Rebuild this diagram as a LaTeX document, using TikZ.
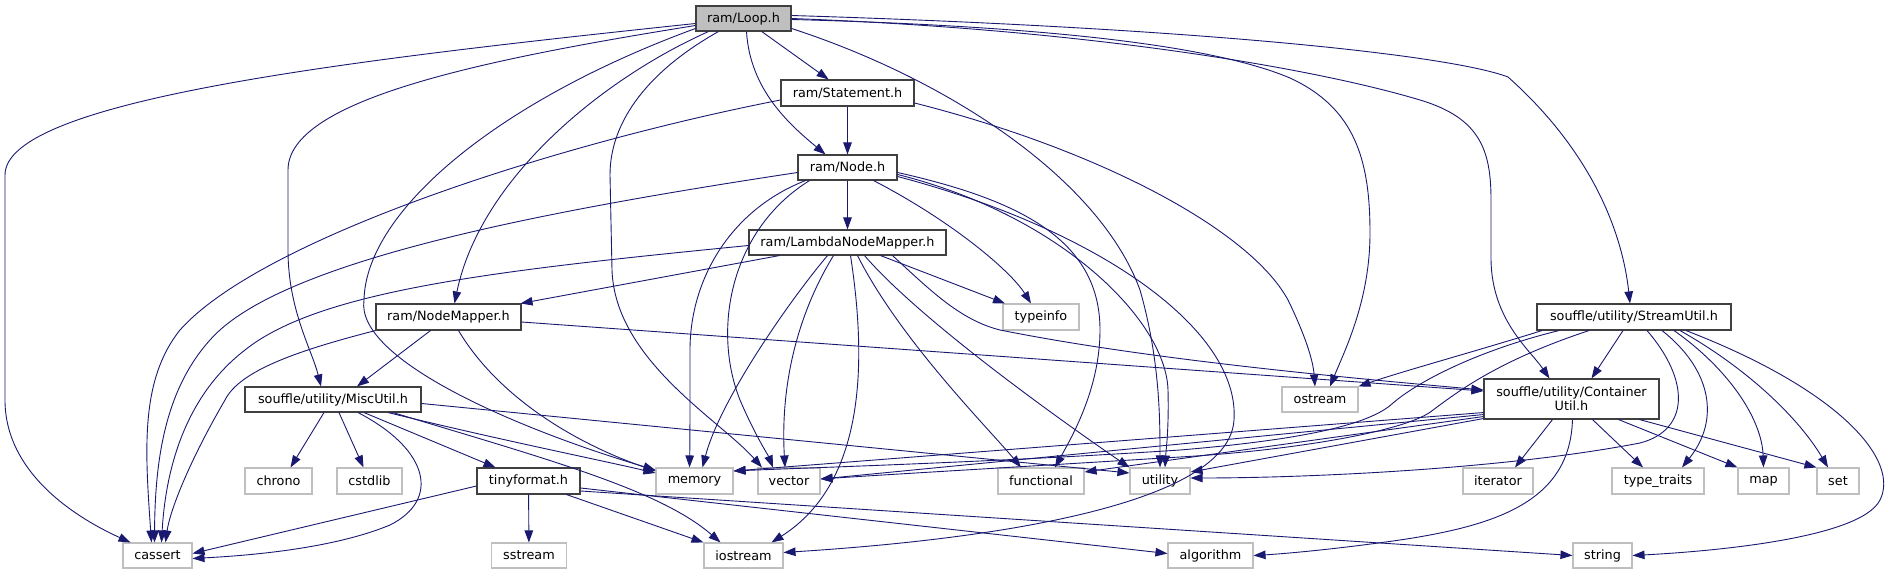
\documentclass[tikz,border=0pt]{standalone}
\usepackage{fontspec}
\setmainfont{DejaVu Sans}
\usetikzlibrary{arrows.meta}
\definecolor{edgec}{HTML}{191970}
\definecolor{bordc}{HTML}{404040}
\definecolor{sysc}{HTML}{BFBFBF}
\newcommand{\nodefont}{\fontsize{12.8}{14}\selectfont}
\tikzset{
  box/.style={rectangle, inner sep=0pt, font=\nodefont, text=black, minimum height=25pt, line width=1.1pt, align=center},
  proj/.style={box, draw=bordc, fill=white},
  sys/.style={box, draw=sysc, fill=white},
  mainbox/.style={box, draw=bordc, fill=sysc},
  e/.style={draw=edgec, line width=0.9pt, -{Triangle[length=12pt,width=8.5pt]}}
}
\begin{document}
\begin{tikzpicture}[x=1pt,y=-1pt]
\useasboundingbox (0,0) rectangle (1891,575);
% nodes
\node[mainbox, minimum width=95pt] (loop) at (743.5,18.5) {ram/Loop.h};
\node[proj, minimum width=133pt, minimum height=26pt] (stmt) at (847.5,93) {ram/Statement.h};
\node[proj, minimum width=99pt] (nodeh) at (847.5,167.5) {ram/Node.h};
\node[proj, minimum width=197pt] (lnm) at (847.5,242.5) {ram/LambdaNodeMapper.h};
\node[proj, minimum width=145pt, minimum height=26pt] (nmap) at (448.5,317) {ram/NodeMapper.h};
\node[sys, minimum width=76pt, minimum height=26pt] (typeinfo) at (1041,317) {typeinfo};
\node[proj, minimum width=194pt, minimum height=26pt] (sutil) at (1634,317) {souffle/utility/StreamUtil.h};
\node[proj, minimum width=176pt] (misc) at (333,399.5) {souffle/utility/MiscUtil.h};
\node[sys, minimum width=76pt] (ostream) at (1320,399.5) {ostream};
\node[proj, minimum width=175pt, minimum height=40pt] (cutil) at (1571.5,399) {souffle/utility/Container\\Util.h};
\node[sys, minimum width=67pt, minimum height=26pt] (chrono) at (278.5,481) {chrono};
\node[sys, minimum width=65pt, minimum height=26pt] (cstdlib) at (369.5,481) {cstdlib};
\node[proj, minimum width=103pt, minimum height=26pt] (tinyf) at (528.5,481) {tinyformat.h};
\node[sys, minimum width=77pt, minimum height=26pt] (memory) at (694.5,481) {memory};
\node[sys, minimum width=62pt, minimum height=26pt] (vector) at (789,481) {vector};
\node[sys, minimum width=86pt, minimum height=26pt] (functional) at (1041,481) {functional};
\node[sys, minimum width=60pt, minimum height=26pt] (utility) at (1160,481) {utility};
\node[sys, minimum width=70pt, minimum height=26pt] (iterator) at (1498,481) {iterator};
\node[sys, minimum width=92pt, minimum height=26pt] (typetraits) at (1658,481) {type\_traits};
\node[sys, minimum width=51pt, minimum height=26pt] (map) at (1763.5,481) {map};
\node[sys, minimum width=42pt, minimum height=26pt] (set) at (1838,481) {set};
\node[sys, minimum width=69pt] (cassert) at (157.5,555.5) {cassert};
\node[sys, minimum width=75pt] (sstream) at (529,555.5) {sstream};
\node[sys, minimum width=79pt] (iostream) at (743.5,555.5) {iostream};
\node[sys, minimum width=85pt] (algorithm) at (1210.5,555.5) {algorithm};
\node[sys, minimum width=59pt] (string) at (1602.5,555.5) {string};
% Loop.h
\draw[e] ([yshift=-5pt]loop.west) .. controls (350,60) and (5,100) .. (5,175) -- (5,400) .. controls (5,470) and (70,515) .. ([xshift=-27pt]cassert.north);
\draw[e] ([yshift=-7pt]loop.west) .. controls (480,60) and (288,100) .. (288,170) -- (288,250) .. controls (288,310) and (312,350) .. ([xshift=-12pt]misc.north);
\draw[e] ([yshift=-10pt]loop.west) .. controls (500,100) and (366,210) .. (364,300) .. controls (355,360) and (520,430) .. ([yshift=11pt]memory.west);
\draw[e] ([xshift=-35pt]loop.south) .. controls (600,80) and (480,180) .. ([xshift=6pt]nmap.north);
\draw[e] ([xshift=-25pt]loop.south) .. controls (650,70) and (610,120) .. (610,175) -- (612,270) .. controls (615,360) and (720,420) .. ([xshift=-27pt]vector.north);
\draw[e] ([xshift=3pt]loop.south) .. controls (750,90) and (790,125) .. ([xshift=-22pt]nodeh.north);
\draw[e] (loop) -- (stmt);
\draw[e] ([yshift=-10pt]loop.east) .. controls (950,80) and (1100,180) .. (1140,290) .. controls (1160,360) and (1160,420) .. (utility.north);
\draw[e] ([yshift=-1pt]loop.east) .. controls (1000,25) and (1200,40) .. (1290,78) .. controls (1355,108) and (1370,160) .. (1370,233) .. controls (1370,300) and (1345,350) .. ([xshift=10pt]ostream.north);
\draw[e] (loop.east) .. controls (1100,30) and (1320,70) .. (1420,100) .. controls (1480,118) and (1491,150) .. (1491,200) -- (1491,260) .. controls (1492,320) and (1530,350) .. ([xshift=-22pt]cutil.north);
\draw[e] ([yshift=3pt]loop.east) .. controls (1200,28) and (1450,55) .. (1508,77) .. controls (1590,150) and (1622,230) .. ([xshift=-4pt]sutil.north);
% Statement.h
\draw[e] ([yshift=-7pt]stmt.west) .. controls (550,145) and (260,240) .. (180,330) .. controls (140,380) and (145,450) .. ([xshift=-6pt]cassert.north);
\draw[e] (stmt) -- (nodeh);
\draw[e] ([yshift=-10pt]stmt.east) .. controls (1100,150) and (1250,230) .. (1288,300) .. controls (1305,335) and (1313,360) .. ([xshift=-5pt]ostream.north);
% Node.h
\draw[e] ([yshift=-5pt]nodeh.west) .. controls (550,210) and (280,260) .. (210,340) .. controls (165,390) and (155,460) .. ([xshift=-3pt]cassert.north);
\draw[e] ([xshift=-42pt]nodeh.south) .. controls (730,210) and (690,280) .. (690,350) .. controls (690,400) and (690,440) .. ([xshift=-5pt]memory.north);
\draw[e] ([xshift=-38pt]nodeh.south) .. controls (730,230) and (712,330) .. (740,400) .. controls (755,435) and (768,455) .. ([xshift=-16pt]vector.north);
\draw[e] (nodeh) -- (lnm);
\draw[e] ([xshift=26pt]nodeh.south) .. controls (950,220) and (1010,270) .. ([xshift=-10pt]typeinfo.north);
\draw[e] ([yshift=-5pt]nodeh.east) .. controls (1020,200) and (1100,240) .. (1100,330) .. controls (1100,390) and (1070,440) .. ([xshift=14pt]functional.north);
\draw[e] ([yshift=-7pt]nodeh.east) .. controls (1060,215) and (1166,320) .. (1168,390) .. controls (1169,430) and (1166,450) .. ([xshift=5pt]utility.north);
\draw[e] ([yshift=-9pt]nodeh.east) .. controls (1100,230) and (1240,330) .. (1234,420) .. controls (1228,520) and (900,545) .. ([yshift=3pt]iostream.east);
% LambdaNodeMapper.h
\draw[e] ([yshift=-3pt]lnm.west) .. controls (500,270) and (320,290) .. (245,350) .. controls (180,400) and (165,480) .. ([xshift=4pt]cassert.north);
\draw[e] ([xshift=-68pt]lnm.south) -- ([xshift=-1pt]nmap.north east);
\draw[e] ([xshift=-20pt]lnm.south) .. controls (790,300) and (720,400) .. ([xshift=8pt]memory.north);
\draw[e] ([xshift=-14pt]lnm.south) .. controls (800,310) and (780,380) .. ([xshift=-4pt]vector.north);
\draw[e] ([xshift=3pt]lnm.south) .. controls (865,350) and (870,480) .. ([xshift=28pt]iostream.north);
\draw[e] ([xshift=10pt]lnm.south) .. controls (900,340) and (990,430) .. ([xshift=-20pt]functional.north);
\draw[e] ([xshift=17pt]lnm.south) .. controls (920,320) and (1060,420) .. (utility.north west);
\draw[e] ([xshift=33pt]lnm.south) -- ([xshift=-36pt]typeinfo.north);
\draw[e] ([xshift=45pt]lnm.south) .. controls (930,290) and (960,320) .. (1000,330) .. controls (1150,360) and (1350,378) .. ([yshift=9pt]cutil.west);
% NodeMapper.h
\draw[e] (nmap.south west) .. controls (300,350) and (240,370) .. (225,400) .. controls (190,460) and (170,510) .. ([xshift=8pt]cassert.north);
\draw[e] ([xshift=-18pt]nmap.south) -- ([xshift=24pt]misc.north);
\draw[e] ([xshift=10pt]nmap.south) .. controls (500,400) and (580,445) .. ([yshift=10pt]memory.west);
\draw[e] ([yshift=-5pt]nmap.east) -- ([yshift=8pt]cutil.west);
% MiscUtil.h
\draw[e] ([xshift=-9pt]misc.south) -- ([xshift=12pt]chrono.north);
\draw[e] ([xshift=6pt]misc.south) -- ([xshift=-6pt]cstdlib.north);
\draw[e] ([xshift=25pt]misc.south) .. controls (430,450) and (440,500) .. (390,525) .. controls (330,550) and (240,556) .. ([yshift=-3pt]cassert.east);
\draw[e] ([xshift=31pt]misc.south) -- ([xshift=-33pt]tinyf.north);
\draw[e] ([xshift=55pt]misc.south) .. controls (500,440) and (600,460) .. ([yshift=8pt]memory.west);
\draw[e] ([xshift=60pt]misc.south) .. controls (550,460) and (660,490) .. ([xshift=-23pt]iostream.north);
\draw[e] ([yshift=-4pt]misc.east) -- ([yshift=8pt]utility.west);
% tinyformat.h
\draw[e] ([yshift=-5pt]tinyf.west) -- ([yshift=2pt]cassert.east);
\draw[e] (tinyf) -- (sstream);
\draw[e] ([xshift=38pt]tinyf.south) -- (iostream.north west);
\draw[e] ([yshift=-7pt]tinyf.east) -- ([yshift=2pt]algorithm.west);
\draw[e] ([yshift=-10pt]tinyf.east) -- (string.west);
% StreamUtil.h
\draw[e] ([xshift=-92pt]sutil.south) .. controls (1480,350) and (1400,372) .. (ostream.north east);
\draw[e] ([xshift=-75pt]sutil.south) .. controls (1480,350) and (1420,380) .. (1393,403) .. controls (1370,425) and (1300,440) .. (1180,450) .. controls (1000,462) and (800,468) .. ([yshift=10pt]memory.east);
\draw[e] ([xshift=-45pt]sutil.south) .. controls (1500,360) and (1460,390) .. (1433,410) .. controls (1410,430) and (1300,450) .. (1180,457) .. controls (1000,468) and (880,475) .. ([yshift=2pt]vector.east);
\draw[e] ([xshift=-11pt]sutil.south) -- ([xshift=20pt]cutil.north);
\draw[e] ([xshift=13pt]sutil.south) .. controls (1690,380) and (1690,430) .. (1640,443) .. controls (1500,470) and (1300,478) .. ([yshift=3pt]utility.east);
\draw[e] ([xshift=28pt]sutil.south) .. controls (1712,370) and (1720,420) .. ([xshift=24pt]typetraits.north);
\draw[e] ([xshift=40pt]sutil.south) .. controls (1730,370) and (1762,420) .. (map.north);
\draw[e] ([xshift=46pt]sutil.south) .. controls (1750,370) and (1800,420) .. ([xshift=-10pt]set.north);
\draw[e] ([xshift=52pt]sutil.south) .. controls (1840,390) and (1900,460) .. (1880,500) .. controls (1860,540) and (1700,552) .. (string.east);
% ContainerUtil.h
\draw[e] ([xshift=-19pt]cutil.south) -- ([xshift=17pt]iterator.north);
\draw[e] ([xshift=1pt]cutil.south) .. controls (1570,500) and (1500,525) .. (1400,540) .. controls (1330,550) and (1280,554) .. (algorithm.east);
\draw[e] ([xshift=21pt]cutil.south) -- ([xshift=-15pt]typetraits.north);
\draw[e] ([xshift=47pt]cutil.south) -- (map.north west);
\draw[e] ([xshift=68pt]cutil.south) -- (set.north west);
\draw[e] ([yshift=7pt]cutil.south west) -- ([yshift=10pt]memory.east);
\draw[e] ([yshift=5pt]cutil.south west) -- ([yshift=2pt]vector.east);
\draw[e] ([yshift=3pt]cutil.south west) -- ([yshift=9pt]functional.east);
\draw[e] ([yshift=1pt]cutil.south west) -- ([yshift=9pt]utility.east);
\end{tikzpicture}
\end{document}
